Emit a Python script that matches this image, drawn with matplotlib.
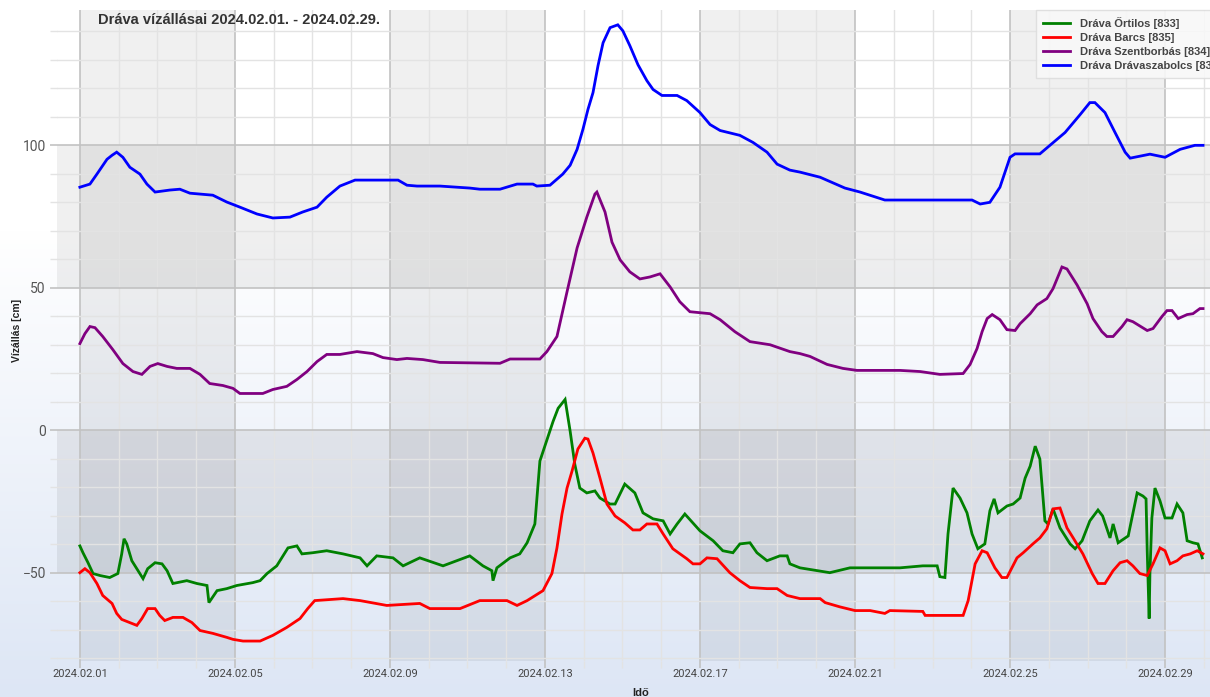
import numpy as np
import pandas as pd
import matplotlib
matplotlib.use("Agg")
import matplotlib.pyplot as plt
import matplotlib.dates as mdates
from matplotlib.ticker import FixedLocator, NullFormatter

# ---------------- data (days since 2024-02-01 00:00, water level in cm) ----------------
title = "Dráva vízállásai 2024.02.01. - 2024.02.29."
ylabel = "Vízállás [cm]"
xlabel = "Idő"

ortilos_days = [0, 0.08, 0.21, 0.34, 0.52, 0.77, 0.98, 1.08, 1.14, 1.21, 1.34, 1.47, 1.63, 1.75, 1.94,
                2.12, 2.25, 2.40, 2.76, 3.02, 3.28, 3.33, 3.54, 3.79, 4.05, 4.46, 4.65, 4.83, 5.08, 5.37,
                5.60, 5.73, 6.01, 6.37, 6.79, 7.23, 7.41, 7.66, 8.08, 8.34, 8.77, 9.37, 10.06, 10.40, 10.63,
                10.66, 10.76, 11.10, 11.35, 11.54, 11.74, 11.87, 12.05, 12.21, 12.34, 12.52, 12.65, 12.77,
                12.90, 13.08, 13.29, 13.42, 13.68, 13.81, 14.06, 14.32, 14.53, 14.79, 15.05, 15.23, 15.41,
                15.61, 16.00, 16.34, 16.59, 16.85, 17.03, 17.29, 17.47, 17.73, 18.06, 18.25, 18.32, 18.58,
                19.35, 19.87, 21.16, 21.75, 22.12, 22.19, 22.32, 22.40, 22.53, 22.71, 22.89, 23.02, 23.17,
                23.35, 23.48, 23.59, 23.69, 23.92, 24.08, 24.26, 24.39, 24.52, 24.65, 24.77, 24.90, 24.98,
                25.11, 25.29, 25.55, 25.68, 25.86, 26.06, 26.27, 26.39, 26.58, 26.66, 26.79, 27.05, 27.28,
                27.43, 27.51, 27.54, 27.59, 27.61, 27.66, 27.74, 27.87, 28.00, 28.18, 28.31, 28.46, 28.57,
                28.72, 28.85, 28.96]
ortilos_cm = [-40.6, -43.0, -46.5, -50.3, -51.0, -51.7, -50.3, -43.4, -38.1, -39.9, -45.8, -48.6, -52.1,
              -48.6, -46.5, -46.9, -49.3, -53.8, -52.8, -53.8, -54.5, -60.5, -56.3, -55.6, -54.5, -53.5,
              -52.8, -50.3, -47.6, -41.3, -40.6, -43.4, -43.0, -42.3, -43.4, -44.8, -47.6, -44.1, -44.8,
              -47.6, -44.8, -47.6, -44.1, -47.6, -49.3, -52.8, -48.3, -44.8, -43.4, -39.5, -32.9, -10.8,
              -3.5, 3.1, 7.7, 10.8, -0.3, -11.9, -20.3, -22.0, -21.3, -23.8, -25.9, -25.9, -18.9, -22.0,
              -29.0, -31.1, -31.8, -36.4, -32.9, -29.4, -35.3, -38.8, -42.3, -43.0, -39.9, -39.5, -43.0,
              -45.8, -44.1, -44.1, -46.9, -48.3, -50.0, -48.3, -48.3, -47.6, -47.6, -51.4, -51.7, -36.4,
              -20.3, -23.8, -29.0, -36.4, -41.6, -39.9, -28.3, -24.1, -29.0, -26.6, -25.9, -23.8, -16.8,
              -12.6, -5.6, -10.1, -31.8, -32.9, -27.6, -34.3, -39.9, -41.6, -38.8, -31.8, -28.0, -30.1,
              -37.8, -32.9, -39.5, -37.1, -22.0, -23.1, -24.1, -42.3, -66.1, -50.3, -30.8, -20.3, -24.8,
              -30.8, -30.8, -25.9, -29.0, -38.8, -39.5, -39.9, -44.8]

barcs_days = [0, 0.13, 0.26, 0.44, 0.59, 0.83, 0.95, 1.08, 1.34, 1.47, 1.60, 1.75, 1.94, 2.06, 2.19, 2.40,
              2.66, 2.89, 3.10, 3.43, 3.79, 3.95, 4.21, 4.65, 4.98, 5.34, 5.68, 5.88, 6.06, 6.79, 7.23,
              7.92, 8.77, 9.03, 9.81, 10.32, 11.02, 11.28, 11.54, 11.95, 12.18, 12.31, 12.44, 12.57, 12.70,
              12.85, 13.03, 13.11, 13.24, 13.42, 13.60, 13.81, 14.06, 14.27, 14.45, 14.63, 14.89, 15.05,
              15.30, 15.66, 15.82, 16.00, 16.18, 16.44, 16.77, 17.03, 17.29, 17.73, 17.99, 18.25, 18.58,
              19.10, 19.23, 19.61, 20.00, 20.39, 20.77, 20.90, 21.75, 21.81, 22.45, 22.79, 22.92, 23.10,
              23.28, 23.41, 23.61, 23.79, 23.92, 24.18, 24.34, 24.59, 24.77, 24.95, 25.11, 25.29, 25.47,
              25.63, 25.88, 26.12, 26.27, 26.45, 26.66, 26.84, 27.02, 27.17, 27.35, 27.54, 27.69, 27.87,
              28.00, 28.13, 28.31, 28.46, 28.65, 28.83, 28.98]
barcs_cm = [-50.0, -48.6, -50.0, -53.8, -58.0, -60.8, -64.3, -66.4, -67.8, -68.5, -66.1, -62.6, -62.6,
            -65.0, -66.8, -65.7, -65.7, -67.5, -70.3, -71.3, -72.7, -73.4, -74.0, -74.0, -72.0, -69.2,
            -66.1, -62.6, -59.8, -59.1, -59.8, -61.5, -60.8, -62.6, -62.6, -59.8, -59.8, -61.5, -59.8,
            -56.3, -50.3, -41.3, -29.4, -20.3, -14.3, -6.6, -2.8, -3.1, -8.0, -16.8, -25.9, -30.1, -32.5,
            -35.0, -35.0, -32.9, -32.9, -36.4, -41.6, -45.1, -46.9, -46.9, -44.8, -45.1, -50.0, -52.8,
            -55.2, -55.6, -55.6, -58.0, -59.1, -59.1, -60.5, -62.0, -63.3, -63.3, -64.3, -63.3, -63.6,
            -65.0, -65.0, -65.0, -59.8, -46.9, -42.3, -43.0, -48.3, -51.7, -51.7, -44.8, -43.0, -39.9,
            -37.8, -34.6, -27.6, -27.3, -34.3, -37.8, -43.4, -50.3, -53.8, -53.8, -49.3, -46.5, -45.8,
            -47.6, -50.3, -51.0, -46.9, -41.3, -42.3, -46.9, -45.8, -44.1, -43.4, -42.3, -43.4]

szentborbas_days = [0, 0.13, 0.26, 0.39, 0.59, 0.85, 1.11, 1.37, 1.60, 1.81, 2.01, 2.25, 2.50, 2.84, 3.10,
                    3.35, 3.69, 3.95, 4.13, 4.72, 4.98, 5.34, 5.60, 5.86, 6.12, 6.37, 6.71, 7.15, 7.56,
                    7.82, 8.18, 8.44, 8.85, 9.29, 10.84, 11.10, 11.87, 12.05, 12.31, 12.57, 12.83, 13.08,
                    13.29, 13.34, 13.55, 13.73, 13.94, 14.19, 14.45, 14.71, 14.97, 15.23, 15.48, 15.74,
                    16.26, 16.52, 16.90, 17.29, 17.81, 18.32, 18.58, 18.84, 19.28, 19.69, 20.05, 21.16,
                    21.68, 22.19, 22.79, 22.97, 23.15, 23.28, 23.41, 23.54, 23.74, 23.92, 24.13, 24.26,
                    24.52, 24.70, 24.95, 25.11, 25.34, 25.47, 25.73, 25.99, 26.14, 26.37, 26.50, 26.66,
                    26.89, 27.02, 27.17, 27.54, 27.69, 27.92, 28.05, 28.18, 28.34, 28.57, 28.72, 28.90,
                    28.98]
szentborbas_cm = [30.4, 33.9, 36.4, 36.0, 32.9, 28.3, 23.4, 20.6, 19.6, 22.4, 23.4, 22.4, 21.7, 21.7, 19.6,
                  16.4, 15.7, 14.7, 12.9, 12.9, 14.3, 15.4, 17.8, 20.6, 24.1, 26.6, 26.6, 27.6, 26.9, 25.5,
                  24.8, 25.2, 24.8, 23.8, 23.5, 25.0, 25.0, 27.6, 32.9, 48.6, 64.0, 74.8, 82.9, 83.6, 76.6,
                  66.0, 59.8, 55.6, 53.1, 53.8, 54.9, 50.3, 45.1, 41.6, 40.9, 38.8, 34.6, 31.1, 30.0, 27.6,
                  26.9, 25.9, 23.1, 21.7, 21.0, 21.0, 20.6, 19.6, 19.9, 23.1, 28.7, 34.6, 39.2, 40.6, 38.8,
                  35.3, 35.0, 37.4, 40.9, 44.0, 46.2, 49.7, 57.3, 56.6, 51.0, 44.4, 39.2, 34.6, 32.9, 32.9,
                  36.4, 38.8, 38.1, 35.0, 35.7, 39.9, 42.0, 42.0, 39.2, 40.6, 40.9, 42.7, 42.7]

dravaszabolcs_days = [0, 0.26, 0.44, 0.70, 0.83, 0.95, 1.11, 1.29, 1.55, 1.73, 1.94, 2.32, 2.58, 2.84, 3.43,
                      3.79, 4.13, 4.57, 4.98, 5.42, 5.75, 6.12, 6.37, 6.71, 7.10, 8.21, 8.44, 8.70, 9.29,
                      10.06, 10.32, 10.84, 11.28, 11.69, 11.79, 12.13, 12.46, 12.65, 12.83, 12.98, 13.11,
                      13.24, 13.37, 13.50, 13.68, 13.88, 14.01, 14.19, 14.40, 14.63, 14.79, 15.02, 15.41,
                      15.66, 16.00, 16.26, 16.52, 17.03, 17.37, 17.73, 17.99, 18.32, 18.58, 19.10, 19.74,
                      20.13, 20.77, 23.02, 23.23, 23.48, 23.74, 24.00, 24.13, 24.77, 25.03, 25.42, 25.81,
                      26.06, 26.19, 26.45, 26.71, 26.97, 27.10, 27.61, 28.00, 28.39, 28.77, 28.98]
dravaszabolcs_cm = [85.3, 86.4, 89.9, 95.1, 96.5, 97.6, 95.8, 92.3, 89.9, 86.4, 83.6, 84.3, 84.6, 83.2,
                    82.5, 80.1, 78.3, 75.9, 74.5, 74.8, 76.6, 78.3, 81.8, 85.7, 87.8, 87.8, 86.0, 85.7,
                    85.7, 85.0, 84.6, 84.6, 86.4, 86.4, 85.7, 86.0, 89.9, 93.0, 98.6, 105.6, 112.6, 118.5,
                    128.0, 136.0, 141.3, 142.3, 140.2, 135.0, 128.3, 122.7, 119.6, 117.5, 117.5, 115.7,
                    111.5, 107.3, 105.2, 103.5, 101.0, 97.6, 93.4, 91.3, 90.6, 88.8, 85.0, 83.6, 80.8,
                    80.8, 79.4, 80.0, 85.3, 95.8, 97.0, 97.0, 100.0, 104.5, 110.8, 115.0, 115.0, 111.5,
                    104.5, 97.6, 95.5, 96.9, 95.8, 98.6, 100.0, 100.0]

series_names = ["Dráva Őrtilos [833]", "Dráva Barcs [835]", "Dráva Szentborbás [834]",
                "Dráva Drávaszabolcs [836]"]
series_days = [ortilos_days, barcs_days, szentborbas_days, dravaszabolcs_days]
series_cm = [ortilos_cm, barcs_cm, szentborbas_cm, dravaszabolcs_cm]
series_colors = ["#008000", "#ff0000", "#800080", "#0000ff"]

y_major = [-50, 0, 50, 100]
tick_days = [0, 4, 8, 12, 16, 20, 24, 28]

# ---------------- figure ----------------
W, H = 1210, 697
fig = plt.figure(figsize=(W / 100, H / 100), dpi=100)

# background gradient (white -> light blue)
bg = fig.add_axes([0, 0, 1, 1], zorder=-10)
rows = np.arange(H)
t = np.clip((rows - 230) / (H - 230), 0, 1)
c_top = np.array([1.0, 1.0, 1.0])
c_bot = np.array([221, 230, 245]) / 255
img = c_top[None, :] * (1 - t[:, None]) + c_bot[None, :] * t[:, None]
bg.imshow(img[:, None, :], aspect="auto", extent=[0, 1, 0, 1], origin="upper")
bg.axis("off")

left_px, top_px, bottom_px = 57, 10, 661
ax = fig.add_axes([left_px / W, 1 - bottom_px / H, 1 - left_px / W, (bottom_px - top_px) / H])
ax.patch.set_alpha(0)
for s in ax.spines.values():
    s.set_visible(False)

start = pd.Timestamp("2024-02-01")
x0 = mdates.date2num(start.to_pydatetime())

# alternating bands
for k in tick_days[::2]:
    ax.axvspan(x0 + k, x0 + k + 4, color="black", alpha=0.06, lw=0, zorder=0)
ax.axhspan(50, 100, color="black", alpha=0.06, lw=0, zorder=0)
ax.axhspan(-50, 0, color="black", alpha=0.065, lw=0, zorder=0)

for name, d, v, c in zip(series_names, series_days, series_cm, series_colors):
    ax.plot(x0 + np.array(d), v, color=c, lw=2.0, label=name, zorder=3,
            solid_joinstyle="miter")

ax.set_xlim(x0 - 0.59, x0 + 29.16)
ax.set_ylim(-81, 147.5)

ax.xaxis.set_major_locator(FixedLocator([x0 + d for d in tick_days]))
ax.xaxis.set_minor_locator(FixedLocator([x0 + d for d in range(0, 30) if d not in tick_days]))
ax.xaxis.set_major_formatter(mdates.DateFormatter("%Y.%m.%d"))
ax.xaxis.set_minor_formatter(NullFormatter())
ax.yaxis.set_major_locator(FixedLocator(y_major))
ax.yaxis.set_minor_locator(FixedLocator([v for v in range(-80, 150, 10) if v not in y_major]))

ax.set_axisbelow(True)
ax.grid(which="major", color="#c2c2c2", lw=1.2, zorder=1)
ax.grid(which="minor", color="#e3e3e3", lw=1.0, zorder=1)
ax.tick_params(which="major", length=5, width=1.2, color="#c2c2c2")
ax.tick_params(which="minor", length=5, width=1.0, color="#e3e3e3")
ax.tick_params(axis="y", which="major", labelsize=10, labelcolor="#555555", pad=3)
ax.tick_params(axis="x", which="major", labelsize=8, labelcolor="#444444", pad=0.5)
for lab in ax.get_xticklabels() + ax.get_yticklabels():
    lab.set_family("Roboto")

fig.text(98 / W, 1 - 20 / H, title, fontsize=10.5, fontweight="bold", color="#333333",
         ha="left", va="center", family="Liberation Sans")
fig.text(17 / W, 1 - 330 / H, ylabel, rotation=90, fontsize=7.5, fontweight="bold",
         color="#222222", ha="center", va="center", family="Liberation Sans")
fig.text(641 / W, 1 - 688 / H, xlabel, fontsize=8, fontweight="bold", color="#222222",
         ha="center", va="top", family="Liberation Sans")

leg = ax.legend(loc="upper left", bbox_to_anchor=(1036 / W, 1 - 10 / H),
                bbox_transform=fig.transFigure, borderaxespad=0,
                prop={"family": "Liberation Sans", "weight": "bold", "size": 8},
                handlelength=2.4, handletextpad=0.9, labelspacing=0.35, borderpad=0.65,
                fancybox=False, framealpha=0.9, edgecolor="#dddddd", facecolor="#f8f8f8")
for txt in leg.get_texts():
    txt.set_color("#444444")
leg.set_zorder(10)

fig.savefig("out.png", dpi=100)
